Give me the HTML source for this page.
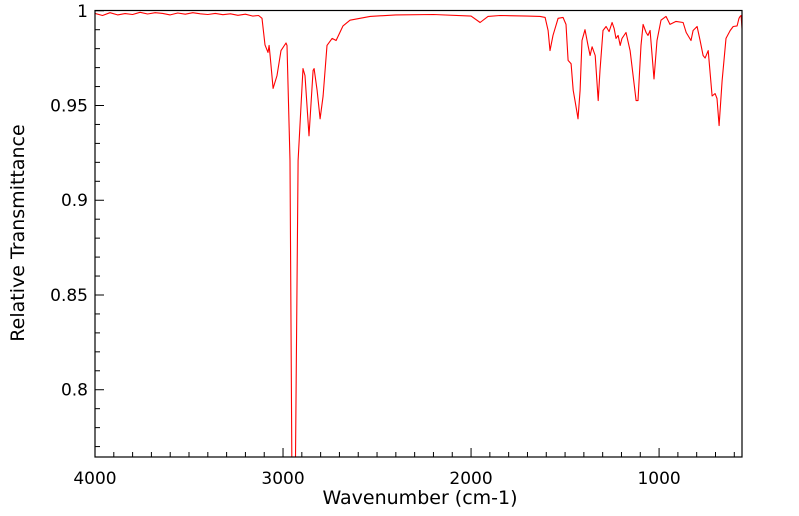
<!DOCTYPE html>
<html><head><meta charset="utf-8"><style>
html,body{margin:0;padding:0;background:#fff;width:799px;height:516px;overflow:hidden;}
svg{display:block;font-family:"DejaVu Sans","Liberation Sans",sans-serif;}
</style></head><body>
<svg id="chart" width="799" height="516">
<defs><clipPath id="clip"><rect x="95" y="10" width="648" height="447"/></clipPath></defs>
<g id="ticks"></g>
<path id="spectrum" fill="none" stroke="#ff0000" stroke-width="1.1" stroke-linejoin="round" clip-path="url(#clip)"/>
<rect x="95" y="10.5" width="647" height="446.5" fill="none" stroke="#000" stroke-width="1.2"/>
<text x="420" y="504" font-size="19" text-anchor="middle">Wavenumber (cm-1)</text>
<text transform="translate(24,233) rotate(-90)" font-size="19" text-anchor="middle">Relative Transmittance</text>
</svg>
<script>
const wavenumbers=[4000,3960,3920,3880,3840,3800,3760,3720,3680,3640,3600,3560,3520,3480,3440,3400,3360,3320,3280,3240,3200,3160,3130,3112,3096,3080,3074,3069,3053,3032,3011,2984,2979,2963,2952,2947,2941,2936,2920,2894,2883,2862,2840,2835,2819,2803,2787,2766,2739,2718,2681,2644,2537,2400,2200,2000,1952,1910,1846,1700,1633,1606,1590,1580,1564,1537,1511,1495,1484,1468,1457,1447,1436,1431,1420,1410,1394,1378,1367,1356,1340,1324,1314,1298,1282,1266,1250,1239,1229,1218,1207,1197,1176,1154,1122,1112,1096,1085,1069,1059,1048,1027,1011,990,963,942,910,872,856,830,819,798,782,766,755,739,718,702,692,681,665,644,622,606,585,575,569,564,559];
const transmittance=[0.9986,0.9975,0.9990,0.9978,0.9985,0.9980,0.9992,0.9983,0.9990,0.9986,0.9978,0.9988,0.9982,0.9990,0.9984,0.9980,0.9986,0.9979,0.9984,0.9976,0.9982,0.9972,0.9975,0.996,0.982,0.978,0.9817,0.9764,0.959,0.9658,0.979,0.983,0.9817,0.921,0.74,0.70,0.70,0.74,0.921,0.9695,0.9658,0.934,0.9685,0.9695,0.958,0.943,0.955,0.9817,0.9854,0.9843,0.992,0.995,0.997,0.9978,0.9980,0.9972,0.9938,0.9970,0.9975,0.9972,0.997,0.9965,0.9896,0.979,0.987,0.996,0.9965,0.9928,0.9738,0.972,0.958,0.9526,0.946,0.943,0.958,0.9843,0.990,0.9817,0.9764,0.981,0.9764,0.9526,0.9685,0.9896,0.9917,0.989,0.9938,0.9907,0.9854,0.987,0.9817,0.9854,0.9885,0.979,0.9526,0.9526,0.9817,0.9928,0.9885,0.987,0.9896,0.964,0.9843,0.995,0.997,0.9928,0.9944,0.9938,0.9885,0.9843,0.9896,0.9917,0.9843,0.9764,0.975,0.979,0.955,0.9563,0.9537,0.9394,0.963,0.9854,0.9896,0.9917,0.992,0.996,0.997,0.9975,0.9907];
const xTickLabels=[4000,3000,2000,1000];
const yTickLabels=[1,0.95,0.9,0.85,0.8];
const xMin=559,xMax=4000,yMin=0.7645,yMax=1.0004;
const L=95,R=742,T=10,B=457;
function xs(w){return L+(xMax-w)/(xMax-xMin)*(R-L);}
function ys(v){return T+(yMax-v)/(yMax-yMin)*(B-T);}
let d='';
for(let i=0;i<wavenumbers.length;i++){d+=(i?'L':'M')+xs(wavenumbers[i]).toFixed(1)+' '+ys(transmittance[i]).toFixed(1);}
document.getElementById('spectrum').setAttribute('d',d);
const g=document.getElementById('ticks');
const NS='http://www.w3.org/2000/svg';
function line(x1,y1,x2,y2){const l=document.createElementNS(NS,'line');l.setAttribute('x1',x1);l.setAttribute('y1',y1);l.setAttribute('x2',x2);l.setAttribute('y2',y2);l.setAttribute('stroke','#000');l.setAttribute('stroke-width','1');


g.appendChild(l);}
for(let w=4000;w>=600;w-=100){const x=xs(w);const major=w%1000===0;line(x,B,x,B-(major?9:5));}
for(let k=100;k>=77;k--){const v=k/100;const y=ys(v);const major=k%5===0;line(L,y,L+(major?9:5),y);}
xTickLabels.forEach(w=>{const t=document.createElementNS(NS,'text');t.setAttribute('x',xs(w));t.setAttribute('y',484);t.setAttribute('font-size','17');t.setAttribute('text-anchor','middle');


t.textContent=w;g.appendChild(t);});
yTickLabels.forEach(v=>{const t=document.createElementNS(NS,'text');t.setAttribute('x',88);t.setAttribute('y',ys(v)+6);t.setAttribute('font-size','17');t.setAttribute('text-anchor','end');


t.textContent=v;g.appendChild(t);});
</script>
</body></html>
